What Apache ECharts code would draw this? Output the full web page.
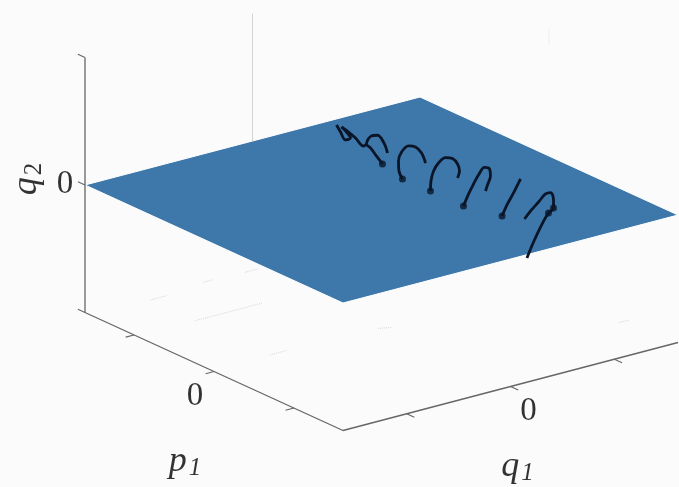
<!DOCTYPE html>
<html>
<head>
<meta charset="utf-8">
<title>q1 p1 q2</title>
<script src="https://cdn.jsdelivr.net/npm/echarts@6/dist/echarts.min.js"></script>
<style>
html,body{margin:0;padding:0;background:#fbfbfb}
#main{width:679px;height:487px}
</style>
</head>
<body>
<div id="main"></div>
<script>
// plane q2 = 0, corners as [q1, p1]
var planeCorners = [[-1,-1],[1,-1],[1,1],[-1,1]];
var tickValues = [-0.62,0,0.62];
var q2Ticks = [-1,0,1];
var tickLabels = ['0'];

// trajectory, parts under the plane are hidden
// each coil is [p1, q2], q1 stays about the same
var trajectoryQ1 = 0.3;
var coil1 = [[-0.738,0.143],[-0.707,0.102],[-0.669,0.058],[-0.630,0.091],[-0.661,0.124],[-0.700,0.145],[-0.645,0.131],[-0.591,0.109],[-0.529,0.075],[-0.506,0.102]];
var coil2 = [[-0.382,0.002],[-0.428,0.043],[-0.475,0.085],[-0.506,0.102],[-0.470,0.180],[-0.420,0.210],[-0.366,0.165],[-0.343,0.106]];
var coil3 = [[-0.227,-0.044],[-0.254,0.006],[-0.258,0.083],[-0.234,0.164],[-0.180,0.237],[-0.126,0.254],[-0.079,0.228],[-0.048,0.164]];
var coil4 = [[-0.010,-0.037],[-0.006,0.043],[0.014,0.130],[0.052,0.211],[0.107,0.279],[0.161,0.296],[0.200,0.271],[0.215,0.223],[0.200,0.161]];
var coil5 = [[0.246,-0.037],[0.285,0.075],[0.324,0.172],[0.362,0.260],[0.409,0.341],[0.448,0.347],[0.455,0.295],[0.432,0.214],[0.417,0.160]];
var coil6 = [[0.545,0.023],[0.587,0.137],[0.634,0.245],[0.688,0.380]];
var coil7 = [[0.738,-0.217],[0.789,-0.068],[0.851,0.094],[0.905,0.213],[0.944,0.270],[0.944,0.333],[0.921,0.381],[0.882,0.352],[0.828,0.264],[0.773,0.176],[0.719,0.080]];
var coils = [coil1,coil2,coil3,coil4,coil5,coil6,coil7];

// the faint dashes left of the floor, [q1, p1] start and end
var floorDashes = [[-0.65,-0.95,-0.55,-0.95],[-0.3,-0.99,-0.24,-0.99],[-0.06,-0.98,0.02,-0.98],[-0.65,-0.6,-0.25,-0.6],[-0.65,-0.02,-0.55,-0.02],[-0.02,0,0.04,0.03],[0.94,0.62,1,0.62]];

// view of the 3d box on the flat chart
function project(q1,p1,q2){
    return [381.5+167.5*q1+129*p1, 200-44*q1+59*p1-127.5*q2];
}

function lineSeries(points,color,width,type){
    return {
        type:'line',
        data:points,
        symbol:'none',
        silent:true,
        z:3,
        lineStyle:{color:color,width:width,type:type||'solid'}
    };
}

function labelSeries(pos,text,offset,rotate,size){
    return {
        type:'scatter',
        data:[pos],
        symbolSize:0,
        silent:true,
        z:5,
        label:{
            show:true,
            position:'inside',
            formatter:text,
            offset:offset,
            rotate:rotate||0,
            color:'#000',
            fontFamily:'Liberation Serif',
            fontSize:size||33,
            rich:{
                v:{fontFamily:'Liberation Serif',fontStyle:'italic',fontSize:36,color:'#000'},
                s:{fontFamily:'Liberation Serif',fontStyle:'italic',fontSize:25,color:'#000',padding:[14,0,0,2]},
                n:{fontFamily:'Liberation Serif',fontSize:25,color:'#000',padding:[14,0,0,2]}
            }
        }
    };
}

function initChart(){
    var myChart = echarts.init(document.getElementById('main'));
    var seriesObj = [];
    var axisColor = '#666';

    // plane
    seriesObj.push({
        type:'custom',
        data:[0],
        silent:true,
        z:2,
        renderItem:function(params,api){
            var pts = planeCorners.map(function(c){
                return api.coord(project(c[0],c[1],0));
            });
            return {
                type:'polygon',
                shape:{points:pts},
                style:{fill:'#3e78ab',stroke:'#fff',lineWidth:1}
            };
        }
    });

    // grid lines on the back walls
    seriesObj.push(lineSeries([project(0,-1,0),project(0,-1,1)],'#d2d2d2',1));
    seriesObj.push(lineSeries([project(1,0,0.87),project(1,0,1)],'#e4e4e4',1,'dotted'));

    // floor dashes
    var dashPts = [];
    floorDashes.forEach(function(d){
        dashPts.push(project(d[0],d[1],-1));
        dashPts.push(project(d[2],d[3],-1));
        dashPts.push([null,null]);
    });
    seriesObj.push(lineSeries(dashPts,'#d8d8d8',1,'dotted'));

    // axes
    seriesObj.push(lineSeries([project(-1,-1,1),project(-1,-1,-1),project(-1,1,-1),project(1,1,-1)],axisColor,1.3));
    var tickPts = [];
    tickValues.forEach(function(t){
        tickPts.push(project(-1,t,-1),project(-1.05,t,-1),[null,null]);
        tickPts.push(project(t,1,-1),project(t,1.06,-1),[null,null]);
    });
    q2Ticks.forEach(function(t){
        tickPts.push(project(-1,-1,t),project(-1,-1.055,t),[null,null]);
    });
    seriesObj.push(lineSeries(tickPts,axisColor,1.1));

    // trajectory
    var coilStarts = [];
    coils.forEach(function(coil){
        var pts = coil.map(function(c){
            return project(trajectoryQ1,c[0],c[1]);
        });
        var s = lineSeries(pts,'#0a1528',2.8);
        s.z = 4;
        s.smooth = 0.35;
        seriesObj.push(s);
        coilStarts.push(pts[0]);
    });
    coilStarts.shift();
    coilStarts.pop();
    coilStarts.push(project(trajectoryQ1,coil7[3][0],coil7[3][1]));
    coilStarts.push(project(trajectoryQ1,coil7[4][0],coil7[4][1]));
    seriesObj.push({
        type:'scatter',
        data:coilStarts,
        symbolSize:7,
        silent:true,
        z:4,
        itemStyle:{color:'#0a1528'}
    });

    // text
    seriesObj.push(labelSeries(project(-1,-1,0),tickLabels[0],[-20,-1]));
    seriesObj.push(labelSeries(project(-1,0,-1),tickLabels[0],[-19,25]));
    seriesObj.push(labelSeries(project(0,1,-1),tickLabels[0],[18,25]));
    // rotated label: the offset turns with the text
    seriesObj.push(labelSeries(project(-1,-1,0),'{v|q}{n|2}',[6,-58],90));
    seriesObj.push(labelSeries(project(-1,0,-1),'{v|p}{s|1}',[-29,90]));
    seriesObj.push(labelSeries(project(0,1,-1),'{v|q}{s|1}',[7,80]));

    var option = {
        animation:false,
        backgroundColor:'#fbfbfb',
        grid:{left:0,right:0,top:0,bottom:0},
        xAxis:{type:'value',min:0,max:679,show:false},
        yAxis:{type:'value',min:0,max:487,inverse:true,show:false},
        series:seriesObj
    };
    myChart.setOption(option);
}

initChart();
</script>
</body>
</html>
